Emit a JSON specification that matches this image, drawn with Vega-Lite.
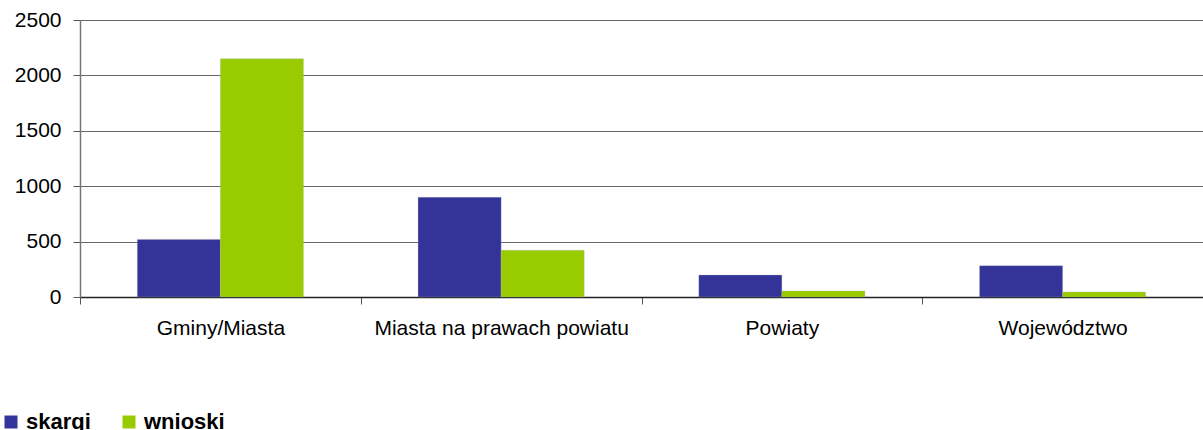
{
  "$schema": "https://vega.github.io/schema/vega-lite/v6.json",
  "autosize": {"type": "none"},
  "padding": {"left": 80, "top": 20, "right": 0, "bottom": 133},
  "width": 1123,
  "height": 277,
  "background": "white",
  "data": {
    "values": [
      {"kategoria": "Gminy/Miasta", "typ": "skargi", "wartosc": 520},
      {"kategoria": "Gminy/Miasta", "typ": "wnioski", "wartosc": 2150},
      {"kategoria": "Miasta na prawach powiatu", "typ": "skargi", "wartosc": 900},
      {"kategoria": "Miasta na prawach powiatu", "typ": "wnioski", "wartosc": 421},
      {"kategoria": "Powiaty", "typ": "skargi", "wartosc": 198},
      {"kategoria": "Powiaty", "typ": "wnioski", "wartosc": 54},
      {"kategoria": "Województwo", "typ": "skargi", "wartosc": 283},
      {"kategoria": "Województwo", "typ": "wnioski", "wartosc": 45}
    ]
  },
  "config": {
    "view": {"stroke": null},
    "font": "Liberation Sans"
  },
  "mark": {"type": "bar", "stroke": "#aaaaaa", "strokeWidth": 0.5, "strokeOpacity": 0.6},
  "encoding": {
    "x": {
      "field": "kategoria",
      "type": "nominal",
      "sort": null,
      "scale": {"paddingInner": 0, "paddingOuter": 0},
      "axis": {
        "title": null,
        "labelAngle": 0,
        "labelFontSize": 21,
        "labelLimit": 0,
        "labelColor": "#000000",
        "labelPadding": 13,
        "tickBand": "extent",
        "tickSize": 7,
        "tickColor": "#555555",
        "domainColor": "#222222",
        "domainWidth": 1.5,
        "grid": false
      }
    },
    "xOffset": {
      "field": "typ",
      "type": "nominal",
      "scale": {"paddingOuter": 0.69, "paddingInner": 0}
    },
    "y": {
      "field": "wartosc",
      "type": "quantitative",
      "scale": {"domain": [0, 2500], "nice": false},
      "axis": {
        "title": null,
        "values": [0, 500, 1000, 1500, 2000, 2500],
        "format": "d",
        "labelFontSize": 21,
        "labelColor": "#000000",
        "labelPadding": 12,
        "tickSize": 7,
        "tickColor": "#555555",
        "domainColor": "#777777",
        "domainWidth": 1.5,
        "gridColor": "#666666",
        "gridWidth": 1.2
      }
    },
    "color": {
      "field": "typ",
      "type": "nominal",
      "scale": {"domain": ["skargi", "wnioski"], "range": ["#333399", "#99CC00"]},
      "legend": {
        "title": null,
        "orient": "none",
        "legendX": -80,
        "legendY": 391,
        "direction": "horizontal",
        "columns": 2,
        "columnPadding": 27,
        "symbolType": "square",
        "symbolSize": 169,
        "symbolStrokeWidth": 0,
        "labelFontSize": 22,
        "labelFontWeight": "bold",
        "labelColor": "#000000",
        "labelOffset": 4
      }
    }
  }
}
